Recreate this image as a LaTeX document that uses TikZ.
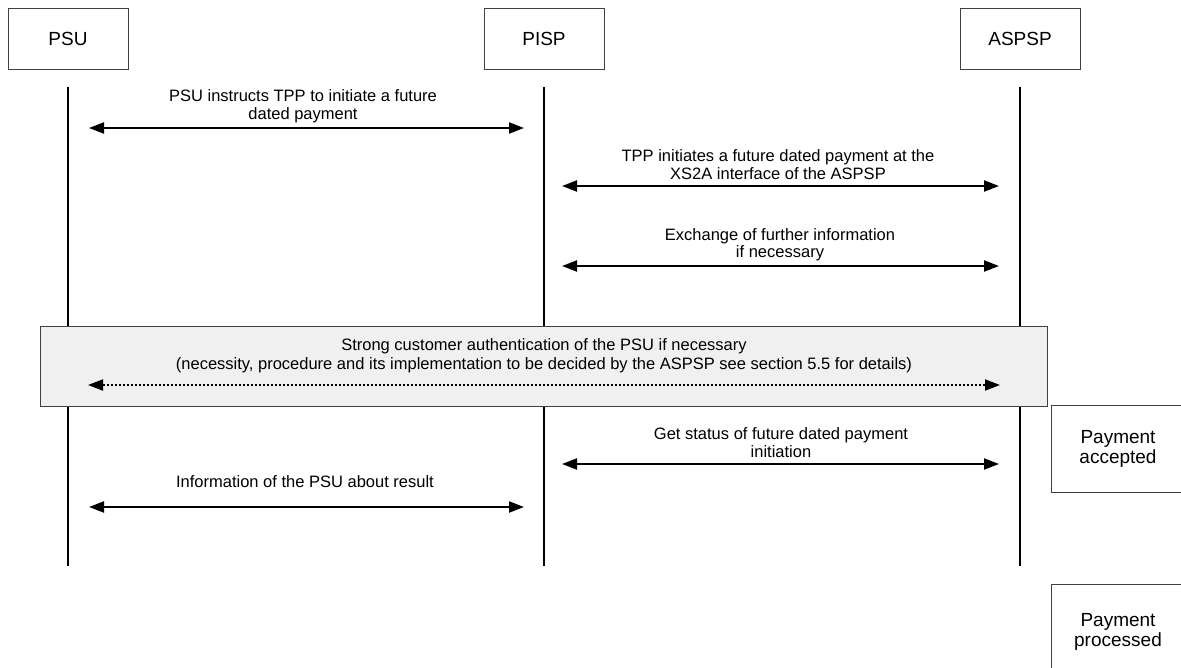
\documentclass[tikz,border=0pt]{standalone}
\usepackage{fontspec}
\setmainfont{Liberation Sans}
\usetikzlibrary{arrows.meta}
\begin{document}
\begin{tikzpicture}[x=1pt,y=-1pt,
  actor/.style={draw=black!75,line width=0.8pt,minimum width=120pt,minimum height=61pt,inner sep=0pt,font=\fontsize{19}{21}\selectfont},
  state/.style={draw=black!75,line width=0.8pt,minimum width=134pt,inner sep=0pt,align=center,font=\fontsize{19}{20}\selectfont},
  life/.style={line width=2.6pt},
  tip/.tip={Triangle[length=15pt,width=11pt]},
  msg/.style={line width=2.2pt,tip-tip},
  dmsg/.style={line width=1.8pt,dash pattern=on 2.5pt off 1.5pt,tip-tip},
  lbl/.style={align=center,inner sep=0pt,font=\fontsize{16.5}{17.5}\selectfont},
  band/.style={draw=black!75,fill=black!6,line width=0.8pt,minimum width=1007pt,minimum height=80pt,inner sep=0pt}
]
\clip (0,0) rectangle (1181,668);
% actors
\node[actor] (psu) at (68,38.5) {PSU};
\node[actor] (pisp) at (544,38.5) {PISP};
\node[actor] (aspsp) at (1020,38.5) {ASPSP};
% lifelines
\coordinate (psuT) at (68,87);   \coordinate (psuB) at (68,566);
\coordinate (pispT) at (544,87); \coordinate (pispB) at (544,566);
\coordinate (aspT) at (1020,87); \coordinate (aspB) at (1020,566);
\draw[life] (psuT) -- (psuB);
\draw[life] (pispT) -- (pispB);
\draw[life] (aspT) -- (aspB);
% message 1
\coordinate (m1a) at (89,128); \coordinate (m1b) at (524,128);
\draw[msg] (m1a) -- (m1b);
\node[lbl] (l1) at (303,106) {PSU instructs TPP to initiate a future\\dated payment};
% message 2
\coordinate (m2a) at (562,186); \coordinate (m2b) at (999,186);
\draw[msg] (m2a) -- (m2b);
\node[lbl] (l2) at (778,164.5) {TPP initiates a future dated payment at the\\XS2A interface of the ASPSP};
% message 3
\coordinate (m3a) at (562,266); \coordinate (m3b) at (999,266);
\draw[msg] (m3a) -- (m3b);
\node[lbl] (l3) at (780,244.5) {Exchange of further information\\if necessary};
% SCA band
\node[band] (sca) at (543.5,366) {};
\node[lbl,font=\fontsize{16.5}{19}\selectfont] (l4) at (544,356) {Strong customer authentication of the PSU if necessary\\(necessity, procedure and its implementation to be decided by the ASPSP see section 5.5 for details)};
\coordinate (m4a) at (88,385); \coordinate (m4b) at (1000,385);
\draw[dmsg] (m4a) -- (m4b);
% message 5
\coordinate (m5a) at (562,464); \coordinate (m5b) at (999,464);
\draw[msg] (m5a) -- (m5b);
\node[lbl] (l5) at (781,442.5) {Get status of future dated payment\\initiation};
% message 6
\coordinate (m6a) at (89,507); \coordinate (m6b) at (524,507);
\draw[msg] (m6a) -- (m6b);
\node[lbl] (l6) at (305,482) {Information of the PSU about result};
% states
\node[state,minimum height=87pt] (acc) at (1118,448.5) {Payment\\accepted};
\node[state,minimum height=96pt] (proc) at (1118,632) {Payment\\processed};
\end{tikzpicture}
\end{document}
